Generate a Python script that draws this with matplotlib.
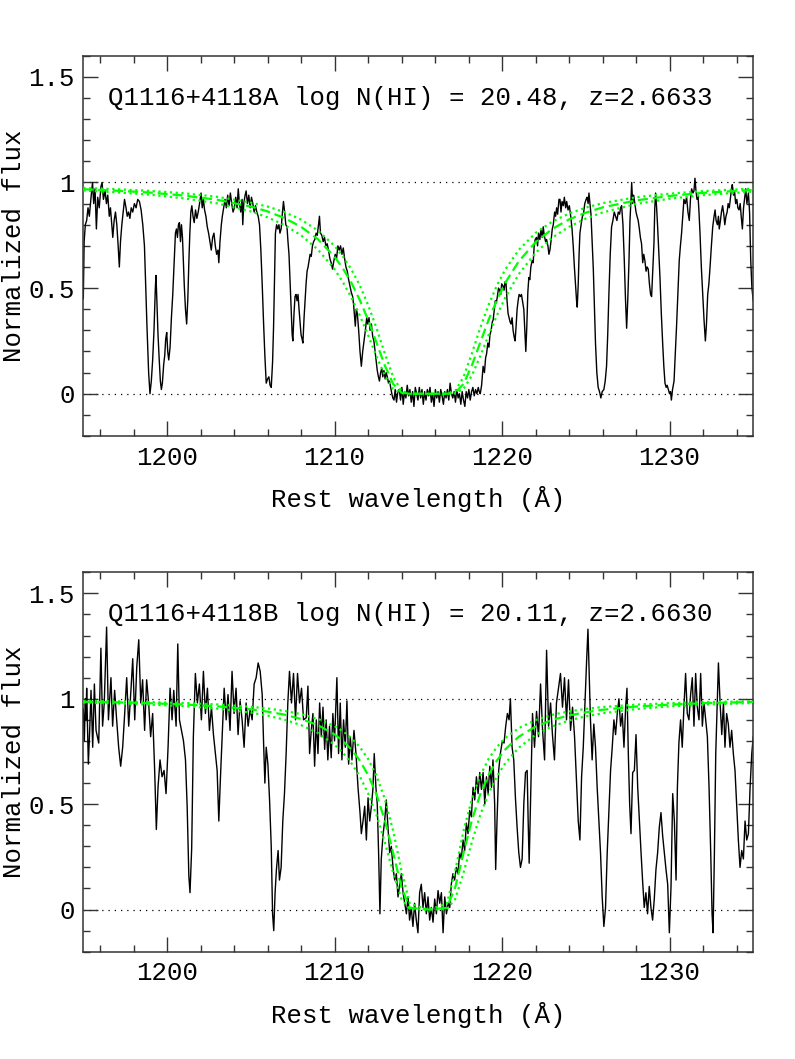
import numpy as np
import matplotlib
matplotlib.use("Agg")
import matplotlib.pyplot as plt
from matplotlib.ticker import MultipleLocator, FixedLocator, FixedFormatter

plt.rcParams['font.family'] = ['Liberation Mono', 'DejaVu Sans']

# ---------------- data ----------------
label_A = "Q1116+4118A log N(HI) = 20.48, z=2.6633"
label_B = "Q1116+4118B log N(HI) = 20.11, z=2.6630"

xtick_values = [1200, 1210, 1220, 1230]
xtick_labels = ['1200', '1210', '1220', '1230']
ytick_values = [0, 0.5, 1, 1.5]
ytick_labels = ['0', '0.5', '1', '1.5']

spec_A = [
(1195.00,0.45),(1195.05,0.72),(1195.12,0.80),(1195.20,0.82),(1195.28,0.88),(1195.36,0.84),(1195.45,0.92),
(1195.55,1.00),(1195.62,0.90),(1195.70,0.97),(1195.78,0.78),(1195.86,0.93),(1195.95,0.88),(1196.05,0.98),
(1196.12,1.00),(1196.20,0.92),(1196.30,0.96),(1196.38,0.90),(1196.46,0.94),(1196.55,0.84),(1196.62,0.88),
(1196.70,0.80),(1196.76,0.74),(1196.84,0.82),(1196.92,0.86),(1197.00,0.80),(1197.08,0.70),(1197.15,0.60),
(1197.22,0.72),(1197.30,0.80),(1197.38,0.86),(1197.46,0.92),(1197.55,0.88),(1197.62,0.84),(1197.70,0.86),
(1197.78,0.83),(1197.86,0.88),(1197.95,0.86),(1198.05,0.90),(1198.15,0.88),(1198.25,0.92),(1198.35,0.91),
(1198.45,0.87),(1198.55,0.80),(1198.65,0.70),(1198.72,0.52),(1198.80,0.32),(1198.90,0.10),(1198.98,0.00),
(1199.06,0.06),(1199.14,0.16),(1199.22,0.30),(1199.30,0.50),(1199.34,0.56),(1199.40,0.42),(1199.46,0.28),
(1199.52,0.18),(1199.60,0.06),(1199.66,0.02),(1199.72,0.05),(1199.80,0.14),(1199.86,0.18),(1199.92,0.26),
(1199.98,0.29),(1200.04,0.20),(1200.10,0.16),(1200.18,0.22),(1200.26,0.36),(1200.34,0.47),(1200.42,0.62),
(1200.50,0.76),(1200.56,0.78),(1200.62,0.74),(1200.68,0.80),(1200.74,0.81),(1200.80,0.72),(1200.86,0.80),
(1200.92,0.74),(1200.98,0.62),(1201.03,0.51),(1201.10,0.40),(1201.17,0.33),(1201.24,0.45),(1201.30,0.62),
(1201.36,0.76),(1201.42,0.86),(1201.48,0.89),(1201.55,0.84),(1201.62,0.81),(1201.70,0.87),(1201.78,0.83),
(1201.86,0.86),(1201.94,0.90),(1202.03,0.95),(1202.10,0.88),(1202.17,0.92),(1202.24,0.87),(1202.32,0.84),
(1202.40,0.79),(1202.48,0.76),(1202.56,0.72),(1202.64,0.68),(1202.72,0.74),(1202.80,0.76),(1202.88,0.70),
(1202.96,0.66),(1203.04,0.68),(1203.09,0.62),(1203.16,0.72),(1203.24,0.80),(1203.30,0.84),(1203.38,0.88),
(1203.46,0.92),(1203.54,0.88),(1203.62,0.94),(1203.70,0.89),(1203.78,0.95),(1203.86,0.90),(1203.94,0.86),
(1204.02,0.88),(1204.10,0.93),(1204.18,0.88),(1204.25,0.97),(1204.32,0.90),(1204.40,0.86),(1204.48,0.92),
(1204.52,0.80),(1204.58,0.90),(1204.66,0.94),(1204.72,0.96),(1204.80,0.90),(1204.88,0.94),(1204.96,0.88),
(1205.04,0.93),(1205.12,0.90),(1205.20,0.86),(1205.28,0.89),(1205.36,0.86),(1205.44,0.84),(1205.52,0.80),
(1205.60,0.68),(1205.68,0.52),(1205.76,0.34),(1205.84,0.18),(1205.92,0.05),(1206.00,0.07),(1206.08,0.08),
(1206.15,0.04),(1206.22,0.03),(1206.30,0.15),(1206.36,0.32),(1206.42,0.55),(1206.47,0.76),(1206.54,0.80),
(1206.61,0.78),(1206.68,0.80),(1206.74,0.76),(1206.81,0.78),(1206.88,0.85),(1206.95,0.91),(1207.02,0.86),
(1207.09,0.80),(1207.16,0.79),(1207.22,0.72),(1207.28,0.66),(1207.35,0.52),(1207.41,0.40),(1207.47,0.28),
(1207.51,0.25),(1207.58,0.38),(1207.64,0.46),(1207.70,0.47),(1207.76,0.44),(1207.82,0.47),(1207.88,0.40),
(1207.94,0.34),(1208.00,0.28),(1208.06,0.26),(1208.11,0.24),(1208.18,0.36),(1208.24,0.44),(1208.30,0.52),
(1208.36,0.58),(1208.42,0.60),(1208.48,0.63),(1208.54,0.66),(1208.61,0.65),(1208.68,0.70),(1208.75,0.72),
(1208.82,0.73),(1208.90,0.76),(1208.97,0.75),(1209.04,0.80),(1209.10,0.84),(1209.16,0.76),(1209.24,0.75),
(1209.32,0.72),(1209.40,0.74),(1209.48,0.70),(1209.56,0.71),(1209.64,0.68),(1209.72,0.64),(1209.80,0.62),
(1209.88,0.59),(1209.96,0.63),(1210.04,0.66),(1210.12,0.64),(1210.20,0.70),(1210.28,0.68),(1210.36,0.70),
(1210.44,0.66),(1210.52,0.69),(1210.60,0.64),(1210.68,0.60),(1210.76,0.58),(1210.84,0.54),(1210.92,0.51),
(1211.00,0.48),(1211.08,0.46),(1211.14,0.42),(1211.20,0.36),(1211.24,0.32),(1211.30,0.40),(1211.36,0.38),
(1211.44,0.30),(1211.52,0.20),(1211.60,0.13),(1211.68,0.20),(1211.76,0.25),(1211.84,0.30),(1211.92,0.36),
(1211.98,0.33),(1212.06,0.36),(1212.12,0.30),(1212.20,0.33),(1212.28,0.27),(1212.35,0.25),(1212.42,0.20),
(1212.50,0.14),(1212.55,0.11),(1212.62,0.08),(1212.68,0.06),(1212.75,0.10),(1212.82,0.12),(1212.88,0.08),
(1212.95,0.11),(1213.02,0.07),(1213.08,0.10),(1213.15,0.08),(1213.22,0.05),(1213.28,0.06),(1213.35,0.03),
(1213.42,0.00),(1213.48,-0.02),(1213.55,-0.03),(1213.62,0.02),(1213.70,-0.04),(1213.78,0.01),
(1213.86,0.02),(1213.94,-0.03),(1214.02,0.03),(1214.10,-0.05),(1214.18,0.01),(1214.26,-0.02),(1214.34,0.04),
(1214.42,-0.01),(1214.50,0.02),(1214.58,-0.04),(1214.66,0.01),(1214.74,-0.06),(1214.82,0.03),(1214.90,0.00),
(1214.98,-0.03),(1215.06,0.03),(1215.14,-0.02),(1215.22,0.02),(1215.30,-0.05),(1215.38,0.01),(1215.46,-0.03),
(1215.54,0.02),(1215.62,-0.01),(1215.70,0.03),(1215.78,-0.04),(1215.86,0.00),(1215.94,-0.06),(1216.02,0.02),
(1216.10,-0.02),(1216.18,0.01),(1216.26,-0.04),(1216.34,0.02),(1216.42,-0.01),(1216.50,-0.05),(1216.58,0.01),
(1216.66,-0.02),(1216.74,0.02),(1216.82,-0.03),(1216.90,0.05),(1216.98,0.00),(1217.06,-0.02),(1217.14,0.01),
(1217.22,-0.04),(1217.30,0.02),(1217.38,-0.02),(1217.46,0.00),(1217.54,-0.05),(1217.62,0.01),(1217.70,-0.03),
(1217.78,-0.06),(1217.86,0.01),(1217.94,-0.02),(1218.02,0.02),(1218.10,-0.03),(1218.18,0.01),(1218.26,0.03),
(1218.34,-0.01),(1218.42,0.02),(1218.50,0.00),(1218.58,0.03),(1218.64,0.01),
(1218.70,0.00),(1218.78,0.04),(1218.87,0.13),(1218.95,0.10),(1219.02,0.17),(1219.08,0.19),(1219.15,0.24),
(1219.22,0.22),(1219.28,0.28),(1219.35,0.30),(1219.42,0.34),(1219.47,0.35),(1219.54,0.40),(1219.60,0.44),
(1219.66,0.43),(1219.72,0.46),(1219.79,0.50),(1219.86,0.49),(1219.92,0.47),(1219.98,0.52),(1220.06,0.51),
(1220.12,0.49),(1220.18,0.53),(1220.24,0.52),(1220.30,0.44),(1220.36,0.38),(1220.42,0.36),(1220.48,0.34),
(1220.54,0.33),(1220.60,0.36),(1220.66,0.30),(1220.72,0.27),(1220.78,0.25),(1220.84,0.32),(1220.90,0.40),
(1220.96,0.44),(1221.02,0.47),(1221.10,0.46),(1221.16,0.47),(1221.24,0.43),(1221.30,0.40),(1221.36,0.30),
(1221.42,0.20),(1221.48,0.32),(1221.54,0.48),(1221.60,0.55),(1221.66,0.54),(1221.72,0.60),(1221.80,0.63),
(1221.86,0.62),(1221.92,0.70),(1221.98,0.73),(1222.06,0.74),(1222.12,0.70),(1222.18,0.76),(1222.26,0.73),
(1222.32,0.78),(1222.40,0.74),(1222.46,0.79),(1222.52,0.75),(1222.60,0.72),(1222.66,0.73),(1222.74,0.70),
(1222.80,0.66),(1222.86,0.68),(1222.92,0.72),(1223.00,0.78),(1223.06,0.80),(1223.14,0.86),(1223.20,0.84),
(1223.26,0.88),(1223.32,0.85),(1223.40,0.92),(1223.46,0.92),(1223.52,0.86),(1223.58,0.91),(1223.66,0.89),
(1223.72,0.93),(1223.80,0.88),(1223.86,0.91),(1223.94,0.87),(1224.02,0.89),(1224.10,0.84),(1224.18,0.78),
(1224.25,0.70),(1224.32,0.60),(1224.39,0.51),(1224.45,0.44),(1224.49,0.41),(1224.55,0.52),(1224.60,0.66),
(1224.65,0.76),(1224.72,0.80),(1224.80,0.84),(1224.86,0.85),(1224.94,0.90),(1225.02,0.92),(1225.08,0.93),
(1225.14,0.90),(1225.19,0.95),(1225.25,0.90),(1225.31,0.85),(1225.38,0.72),(1225.45,0.59),(1225.52,0.40),
(1225.58,0.24),(1225.66,0.10),(1225.74,0.03),(1225.82,0.01),(1225.90,-0.02),(1225.98,0.01),(1226.08,0.02),
(1226.16,0.06),(1226.24,0.13),(1226.31,0.28),(1226.38,0.47),(1226.46,0.66),(1226.54,0.79),(1226.62,0.82),
(1226.70,0.86),(1226.78,0.84),(1226.86,0.82),(1226.94,0.86),(1227.02,0.85),(1227.08,0.88),(1227.14,0.89),
(1227.22,0.80),(1227.30,0.63),(1227.37,0.45),(1227.44,0.31),(1227.51,0.45),(1227.58,0.63),(1227.64,0.82),
(1227.70,0.92),(1227.74,1.00),(1227.80,0.90),(1227.86,0.94),(1227.93,0.90),(1228.00,0.86),(1228.06,0.84),
(1228.13,0.82),(1228.20,0.78),(1228.26,0.74),(1228.33,0.71),(1228.40,0.62),(1228.46,0.66),(1228.53,0.63),
(1228.60,0.58),(1228.66,0.60),(1228.73,0.59),(1228.80,0.52),(1228.87,0.47),(1228.93,0.46),(1229.00,0.58),
(1229.07,0.71),(1229.12,0.88),(1229.17,0.95),(1229.23,0.88),(1229.29,0.79),(1229.36,0.67),(1229.43,0.55),
(1229.51,0.38),(1229.59,0.24),(1229.66,0.13),(1229.73,0.05),(1229.80,0.03),(1229.86,0.04),(1229.93,0.02),
(1230.00,0.00),(1230.06,0.01),(1230.11,-0.03),(1230.18,0.02),(1230.27,0.06),(1230.34,0.18),(1230.42,0.32),
(1230.50,0.48),(1230.58,0.63),(1230.65,0.70),(1230.72,0.76),(1230.79,0.84),(1230.86,0.92),(1230.94,0.90),
(1231.02,0.93),(1231.10,0.86),(1231.18,0.82),(1231.25,0.92),(1231.32,0.97),(1231.40,0.95),(1231.46,0.96),
(1231.52,1.02),(1231.58,0.96),(1231.64,0.92),(1231.70,0.94),(1231.76,0.86),(1231.82,0.76),(1231.90,0.60),
(1231.98,0.47),(1232.06,0.35),(1232.14,0.25),(1232.20,0.32),(1232.28,0.47),(1232.35,0.52),(1232.42,0.60),
(1232.50,0.70),(1232.58,0.79),(1232.66,0.84),(1232.72,0.87),(1232.78,0.82),(1232.86,0.80),(1232.92,0.84),
(1232.97,0.78),(1233.04,0.82),(1233.10,0.86),(1233.17,0.89),(1233.24,0.85),(1233.30,0.80),(1233.37,0.84),
(1233.44,0.86),(1233.50,0.90),(1233.57,0.88),(1233.64,0.93),(1233.70,0.97),(1233.75,0.99),(1233.82,0.94),
(1233.88,0.96),(1233.95,0.90),(1234.02,0.92),(1234.08,0.88),(1234.15,0.87),(1234.22,0.90),(1234.28,0.84),
(1234.35,0.78),(1234.42,0.88),(1234.48,0.92),(1234.55,0.97),(1234.62,0.90),(1234.71,0.95),(1234.78,0.86),
(1234.85,0.63),(1234.92,0.50),(1235.00,0.44),
]

spec_B = [
(1195.00,0.95),(1195.06,0.80),(1195.12,1.00),(1195.16,0.90),(1195.20,1.05),(1195.30,0.69),(1195.38,0.85),
(1195.46,1.04),(1195.56,0.77),(1195.66,1.07),(1195.76,0.85),(1195.92,0.79),(1196.05,1.24),(1196.15,0.87),
(1196.25,0.98),(1196.39,1.34),(1196.50,0.90),(1196.65,1.10),(1196.75,0.87),(1196.87,1.04),(1196.99,0.90),
(1197.11,0.77),(1197.23,0.68),(1197.35,0.77),(1197.47,0.93),(1197.59,1.10),(1197.71,0.87),(1197.85,1.05),
(1197.95,1.19),(1198.07,0.90),(1198.19,1.15),(1198.31,1.28),(1198.43,0.98),(1198.54,1.09),(1198.66,0.85),
(1198.78,1.09),(1198.90,0.98),(1199.02,0.82),(1199.14,0.93),(1199.26,0.66),(1199.36,0.38),(1199.46,0.58),
(1199.58,0.71),(1199.70,0.63),(1199.82,0.66),(1199.94,0.55),(1200.06,0.77),(1200.18,1.05),(1200.30,0.90),
(1200.40,1.04),(1200.54,0.87),(1200.64,1.26),(1200.74,0.90),(1200.86,0.85),(1200.98,0.80),(1201.10,0.71),
(1201.20,0.49),(1201.30,0.16),(1201.37,0.08),(1201.47,0.29),(1201.57,0.82),(1201.69,1.12),(1201.81,0.98),
(1201.93,1.07),(1202.05,0.90),(1202.17,1.13),(1202.29,0.93),(1202.41,1.05),(1202.53,0.85),(1202.65,0.96),
(1202.77,0.83),(1202.89,0.74),(1202.99,0.66),(1203.09,0.42),(1203.19,0.63),(1203.29,0.82),(1203.41,1.05),
(1203.53,0.90),(1203.64,1.02),(1203.76,0.85),(1203.88,1.13),(1204.00,0.93),(1204.12,1.05),(1204.24,0.83),
(1204.36,0.99),(1204.48,0.90),(1204.60,0.77),(1204.72,0.98),(1204.84,0.87),(1204.96,0.95),(1205.08,0.90),
(1205.20,1.07),(1205.32,1.10),(1205.44,1.17),(1205.56,1.13),(1205.68,1.02),(1205.76,0.80),(1205.84,0.60),
(1205.92,0.77),(1206.02,0.69),(1206.12,0.52),(1206.22,0.30),(1206.30,-0.02),(1206.37,-0.10),(1206.45,0.08),
(1206.53,0.19),(1206.63,0.28),(1206.71,0.14),(1206.81,0.20),(1206.91,0.42),(1207.01,0.55),(1207.11,0.74),
(1207.21,0.98),(1207.31,1.13),(1207.43,0.98),(1207.55,1.12),(1207.67,0.90),(1207.79,1.12),(1207.91,0.98),
(1208.03,1.05),(1208.15,0.90),
(1208.31,0.91),(1208.41,1.06),(1208.51,0.74),(1208.61,0.85),(1208.71,0.93),(1208.81,0.68),(1208.91,0.90),
(1209.01,0.74),(1209.11,0.98),(1209.21,0.82),(1209.31,0.96),(1209.41,0.76),(1209.50,0.90),(1209.60,0.71),
(1209.70,0.87),(1209.80,0.72),(1209.90,0.93),(1210.00,0.80),(1210.14,1.10),(1210.24,0.74),(1210.34,0.98),
(1210.44,0.71),(1210.54,0.90),(1210.64,0.77),(1210.74,0.99),(1210.84,0.69),(1210.94,0.82),(1211.04,0.71),
(1211.16,0.85),(1211.28,0.74),(1211.40,0.58),(1211.52,0.46),(1211.60,0.36),(1211.70,0.42),(1211.80,0.49),
(1211.90,0.33),(1212.00,0.53),(1212.10,0.42),(1212.20,0.49),(1212.29,0.57),(1212.37,0.74),(1212.47,0.58),
(1212.55,0.50),(1212.63,0.27),(1212.71,-0.02),(1212.79,0.24),(1212.89,0.35),(1212.99,0.42),(1213.09,0.52),
(1213.19,0.39),(1213.29,0.27),(1213.39,0.30),(1213.49,0.20),(1213.59,0.14),(1213.69,0.17),(1213.79,0.06),
(1213.89,0.12),(1213.99,0.17),(1214.09,0.08),(1214.19,0.03),(1214.29,-0.02),(1214.39,0.06),(1214.48,-0.05),
(1214.58,0.01),(1214.68,-0.08),(1214.78,0.03),(1214.88,-0.05),(1214.98,-0.11),(1215.08,0.08),(1215.18,0.12),
(1215.28,0.01),(1215.38,0.08),(1215.48,-0.02),(1215.58,0.06),(1215.68,-0.05),(1215.78,0.01),(1215.88,-0.06),
(1215.98,0.05),(1216.08,-0.02),(1216.18,0.09),(1216.28,0.03),(1216.38,0.08),(1216.48,-0.11),(1216.58,0.06),
(1216.68,-0.02),(1216.78,0.03),(1216.88,0.01),(1216.97,0.12),(1217.07,0.17),(1217.17,0.14),(1217.27,0.20),
(1217.37,0.17),(1217.47,0.27),(1217.57,0.24),(1217.67,0.33),(1217.77,0.28),(1217.87,0.41),(1217.97,0.36),
(1218.07,0.47),(1218.17,0.44),(1218.27,0.58),(1218.37,0.52),(1218.47,0.63),(1218.57,0.55),(1218.67,0.65),
(1218.77,0.57),(1218.87,0.65),(1218.97,0.50),(1219.07,0.63),(1219.17,0.55),(1219.27,0.68),(1219.37,0.58),
(1219.46,0.71),(1219.56,0.50),(1219.62,0.19),(1219.70,0.42),(1219.80,0.66),(1219.90,0.74),(1220.02,0.80),
(1220.12,0.79),(1220.22,0.87),(1220.32,0.93),(1220.42,0.90),(1220.50,1.00),(1220.60,0.77),(1220.70,0.71),
(1220.80,0.53),(1220.90,0.39),(1221.00,0.27),(1221.10,0.20),(1221.20,0.24),(1221.30,0.50),(1221.40,0.65),
(1221.50,0.66),(1221.56,0.42),(1221.62,0.22),(1221.70,0.50),
(1221.82,0.93),(1221.94,0.77),(1222.06,0.94),(1222.18,0.82),(1222.30,1.07),(1222.42,0.85),(1222.54,0.71),
(1222.66,1.23),(1222.78,0.87),(1222.90,0.98),(1223.01,0.83),(1223.13,0.71),(1223.25,0.98),(1223.37,1.05),
(1223.49,1.12),(1223.61,0.96),(1223.73,1.10),(1223.85,0.90),(1223.97,1.09),(1224.09,0.85),(1224.21,0.96),
(1224.33,0.82),(1224.45,0.60),(1224.55,0.42),(1224.65,0.33),(1224.75,0.63),(1224.85,0.77),(1224.95,0.98),
(1225.05,1.18),(1225.13,1.33),(1225.20,1.13),(1225.28,0.90),(1225.38,0.71),(1225.48,0.88),(1225.58,0.77),
(1225.68,0.58),(1225.78,0.42),(1225.88,0.27),(1225.98,0.06),(1226.08,-0.08),(1226.18,0.01),(1226.28,0.27),
(1226.38,0.46),(1226.48,0.66),(1226.58,0.77),(1226.68,0.90),(1226.78,0.83),(1226.88,0.93),(1226.98,1.00),
(1227.08,0.87),(1227.18,0.93),(1227.28,0.77),(1227.38,0.96),(1227.46,1.05),(1227.54,0.74),(1227.62,0.50),
(1227.70,0.36),(1227.80,0.65),(1227.90,0.66),(1228.00,0.83),(1228.10,0.58),(1228.20,0.42),(1228.30,0.27),
(1228.39,0.14),(1228.49,0.01),(1228.59,0.08),(1228.69,-0.02),(1228.79,0.11),(1228.89,0.01),(1228.99,-0.05),
(1229.09,0.05),(1229.19,0.19),(1229.29,0.27),(1229.39,0.39),(1229.49,0.46),(1229.59,0.35),(1229.69,0.27),
(1229.79,0.19),(1229.89,0.12),(1229.99,-0.11),(1230.09,0.11),(1230.19,0.55),(1230.29,0.42),(1230.39,0.14),
(1230.47,0.58),(1230.56,0.79),(1230.66,0.90),(1230.76,0.77),(1230.86,0.96),(1230.96,1.12),(1231.06,0.93),
(1231.16,0.90),(1231.26,1.02),(1231.36,1.10),(1231.46,0.87),(1231.56,1.12),(1231.66,0.96),(1231.76,0.90),
(1231.86,1.12),(1231.96,0.87),(1232.06,0.98),(1232.16,0.90),(1232.26,0.82),(1232.36,0.58),(1232.46,0.27),
(1232.54,-0.02),(1232.60,-0.11),(1232.68,0.27),(1232.76,0.74),(1232.84,0.96),(1232.92,1.17),(1233.02,0.98),
(1233.12,0.83),(1233.22,0.98),(1233.31,0.77),(1233.41,0.93),(1233.51,0.88),(1233.61,0.77),(1233.71,0.85),
(1233.81,0.74),(1233.91,0.66),(1234.01,0.50),(1234.11,0.33),(1234.21,0.20),(1234.31,0.28),(1234.41,0.24),
(1234.51,0.42),(1234.61,0.33),(1234.71,0.36),(1234.81,0.58),(1234.91,0.74),(1235.00,0.82),
]

# fitted damped Ly-alpha profiles (best fit, and upper / lower bounds)
fit_wave = [1195, 1197, 1199, 1201, 1203, 1205, 1206, 1207, 1208, 1209, 1210, 1210.5, 1211, 1211.5,
            1212, 1212.5, 1213, 1213.5, 1214, 1214.5, 1215.6, 1216.7, 1217.2, 1217.7, 1218.2, 1218.7,
            1219.2, 1219.7, 1220.2, 1221, 1222, 1223, 1224, 1225, 1226, 1228, 1230, 1232, 1235]

fitA_best = [0.968, 0.961, 0.952, 0.938, 0.918, 0.886, 0.863, 0.832, 0.790, 0.732, 0.648, 0.593, 0.526, 0.445,
             0.350, 0.243, 0.134, 0.046, 0.005, 0.000, 0.000, 0.000, 0.005, 0.046, 0.134, 0.243,
             0.350, 0.445, 0.526, 0.627, 0.717, 0.780, 0.825, 0.857, 0.882, 0.915, 0.936, 0.951, 0.964]
fitA_high = [0.974, 0.968, 0.960, 0.949, 0.932, 0.905, 0.886, 0.860, 0.824, 0.773, 0.700, 0.650, 0.589, 0.514,
             0.421, 0.312, 0.191, 0.079, 0.013, 0.000, 0.000, 0.000, 0.013, 0.079, 0.191, 0.312,
             0.421, 0.514, 0.589, 0.681, 0.761, 0.815, 0.853, 0.881, 0.902, 0.930, 0.947, 0.959, 0.971]
fitA_low = [0.962, 0.953, 0.942, 0.925, 0.901, 0.863, 0.835, 0.799, 0.750, 0.683, 0.589, 0.528, 0.456, 0.372,
            0.278, 0.178, 0.086, 0.023, 0.002, 0.000, 0.000, 0.000, 0.002, 0.023, 0.086, 0.178,
            0.278, 0.372, 0.456, 0.566, 0.667, 0.739, 0.790, 0.829, 0.858, 0.898, 0.923, 0.940, 0.957]

fitB_best = [0.986, 0.983, 0.979, 0.973, 0.964, 0.950, 0.939, 0.925, 0.904, 0.875, 0.831, 0.800, 0.760, 0.708,
             0.639, 0.547, 0.424, 0.268, 0.104, 0.008, 0.000, 0.008, 0.104, 0.268, 0.424, 0.547,
             0.639, 0.708, 0.760, 0.820, 0.868, 0.900, 0.921, 0.936, 0.948, 0.963, 0.972, 0.979, 0.985]
fitB_high = [0.990, 0.988, 0.984, 0.980, 0.973, 0.962, 0.954, 0.943, 0.927, 0.905, 0.870, 0.846, 0.814, 0.772,
             0.715, 0.636, 0.525, 0.373, 0.183, 0.027, 0.000, 0.027, 0.183, 0.373, 0.525, 0.636,
             0.715, 0.772, 0.814, 0.861, 0.899, 0.924, 0.940, 0.952, 0.961, 0.972, 0.979, 0.984, 0.988]
fitB_low = [0.982, 0.978, 0.972, 0.965, 0.953, 0.934, 0.920, 0.901, 0.875, 0.838, 0.782, 0.744, 0.695, 0.633,
            0.552, 0.449, 0.320, 0.174, 0.049, 0.002, 0.000, 0.002, 0.049, 0.174, 0.320, 0.449,
            0.552, 0.633, 0.695, 0.768, 0.829, 0.869, 0.897, 0.917, 0.931, 0.951, 0.964, 0.972, 0.980]

panels = [
    (spec_A, fitA_best, fitA_high, fitA_low, label_A),
    (spec_B, fitB_best, fitB_high, fitB_low, label_B),
]

# ---------------- figure ----------------
fig = plt.figure(figsize=(7.95, 10.59), dpi=100)
positions = [[0.1048, 0.5883, 0.8427, 0.3591], [0.1048, 0.1013, 0.8427, 0.3583]]
green = '#00ff00'
fs = 18.5

for pos, (spec, fbest, fhigh, flow, label) in zip(positions, panels):
    ax = fig.add_axes(pos)
    w = [p[0] for p in spec]
    f = [p[1] for p in spec]
    ax.axhline(0, color='k', lw=0.9, ls=(0, (1, 4)), zorder=1)
    ax.axhline(1, color='k', lw=0.9, ls=(0, (1, 4)), zorder=1)
    ax.plot(w, f, color='k', lw=1.0, zorder=2)
    ax.plot(fit_wave, fbest, color=green, lw=1.6, ls=(0, (4.5, 2.2)), zorder=3)
    ax.plot(fit_wave, fhigh, color=green, lw=1.6, ls=(0, (1, 1.6)), zorder=3)
    ax.plot(fit_wave, flow, color=green, lw=1.6, ls=(0, (1, 1.6)), zorder=3)
    ax.set_xlim(1195, 1235)
    ax.set_ylim(-0.2, 1.6)
    ax.xaxis.set_major_locator(FixedLocator(xtick_values))
    ax.xaxis.set_major_formatter(FixedFormatter(xtick_labels))
    ax.xaxis.set_minor_locator(MultipleLocator(2))
    ax.yaxis.set_major_locator(FixedLocator(ytick_values))
    ax.yaxis.set_major_formatter(FixedFormatter(ytick_labels))
    ax.yaxis.set_minor_locator(MultipleLocator(0.1))
    ax.tick_params(which='both', direction='in', top=True, right=True, color='#333333', width=1.0)
    ax.tick_params(which='major', length=10.5)
    ax.tick_params(which='minor', length=5)
    ax.tick_params(axis='x', which='major', pad=7, labelsize=fs)
    ax.tick_params(axis='y', which='major', pad=6, labelsize=fs)
    for sp in ax.spines.values():
        sp.set_linewidth(1.1)
        sp.set_color('#333333')
    ax.set_xlabel('Rest wavelength (Å)', fontsize=fs, labelpad=12)
    ax.set_ylabel('Normalized flux', fontsize=fs, labelpad=2)
    ax.text(1196.45, 1.40, label, fontsize=fs, ha='left', va='center')

fig.savefig('out.png', dpi=100)
